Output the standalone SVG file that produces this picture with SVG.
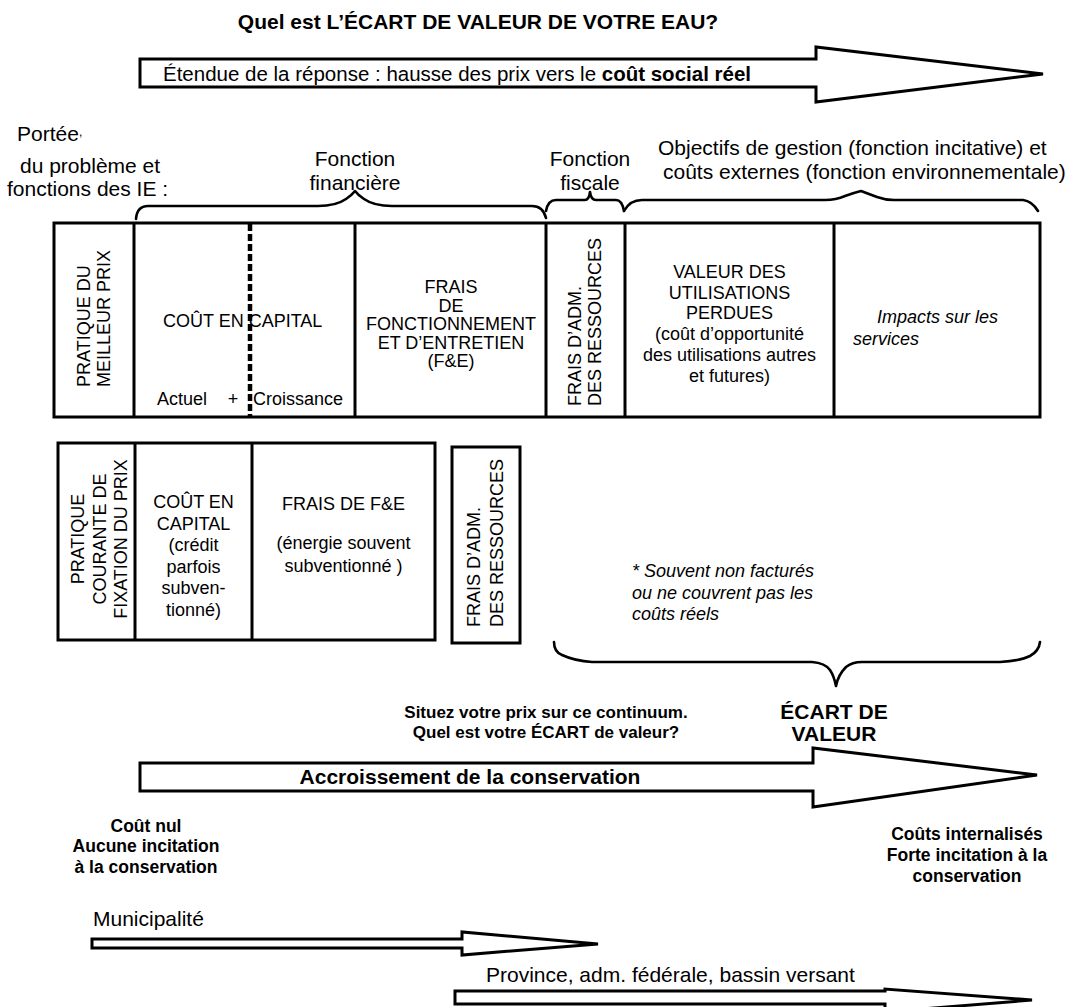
<svg xmlns="http://www.w3.org/2000/svg" width="1074" height="1007" viewBox="0 0 1074 1007">
<style>
text{font-family:"Liberation Sans",Arial,sans-serif;fill:#000}
.t21{font-size:21px}
.b{font-weight:bold}
.bx{font-size:18px}
.c{text-anchor:middle}
.it{font-style:italic}
.ln{fill:none;stroke:#000;stroke-width:3}
.arr{fill:#fff;stroke:#000;stroke-width:3;stroke-linejoin:miter}
.br{fill:none;stroke:#000;stroke-width:2.6;stroke-linejoin:round;stroke-linecap:round}
</style>
<rect width="1074" height="1007" fill="#fff"/>

<g id="title">
<text x="478" y="29" class="t21 b c">Quel est L’ÉCART DE VALEUR DE VOTRE EAU?</text>
</g>

<g id="arrows">
<polygon class="arr" points="140,59 816,59 816,47 1043,74 816,102 816,87 140,87"/>
<polygon class="arr" points="140,763 813,763 813,748 1037,775 813,807 813,791 140,791"/>
<polygon class="arr" points="92,939 462,939 462,932 598,944 462,955 462,948 92,948"/>
<polygon class="arr" points="455,991 885,991 885,989 1032,1000 885,1012 885,1004 455,1004"/>
</g>

<g id="arrow-labels">
<text x="163" y="81" style="font-size:20.5px">Étendue de la réponse : hausse des prix vers le <tspan font-weight="bold">coût social réel</tspan></text>
<text x="470" y="784" class="t21 b c">Accroissement de la conservation</text>
<text x="93" y="926" class="t21">Municipalité</text>
<text x="486" y="982" class="t21">Province, adm. fédérale, bassin versant</text>
</g>

<g id="scope-label">
<text x="17" y="141" class="t21">Portée<tspan font-size="12" dy="-5">,</tspan></text>
<text x="20" y="173" class="t21">du problème et</text>
<text x="7" y="196" class="t21">fonctions des IE :</text>
</g>

<g id="function-labels">
<text x="355" y="166" class="t21 c">Fonction</text>
<text x="355" y="190" class="t21 c">financière</text>
<text x="590" y="166" class="t21 c">Fonction</text>
<text x="590" y="190" class="t21 c">fiscale</text>
<text x="658" y="155" class="t21">Objectifs de gestion (fonction incitative) et</text>
<text x="663" y="179" class="t21">coûts externes (fonction environnementale)</text>
</g>

<g id="braces">
<path class="br" d="M136,219 Q137,206 148,206 L318,206 Q336,206 346,199 Q352,195 355,191 Q358,195 364,199 Q374,206 392,206 L532,206 Q543,206 546,218"/>
<path class="br" d="M546,211 Q548,200 556,200 L585,200 Q589,200 590,192 Q591,200 596,200 L616,200 Q622,200 624,211"/>
<path class="br" d="M624,211 Q630,200 642,200 L825,200 Q836,200 845,196 Q853,193 861,191 Q869,194 877,197 Q885,200 894,200 L1023,200 Q1032,201 1038,211"/>
<path class="br" d="M554,642 Q554,652 562,655 Q575,661 592,662 L812,662 Q825,663 830,670 Q834,676 836,686 M836,686 Q838,675 846,667 Q852,662 862,662 L1000,662 Q1020,661 1030,656 Q1039,651 1040,642"/>
</g>

<g id="row-best">
<rect class="ln" x="54" y="223" width="986" height="194"/>
<line class="ln" x1="134" y1="223" x2="134" y2="417"/>
<line class="ln" x1="355" y1="223" x2="355" y2="417"/>
<line class="ln" x1="546" y1="223" x2="546" y2="417"/>
<line class="ln" x1="625" y1="223" x2="625" y2="417"/>
<line class="ln" x1="834" y1="223" x2="834" y2="417"/>
<line x1="250" y1="224" x2="250" y2="416" stroke="#000" stroke-width="4.5" stroke-dasharray="7 3"/>
</g>

<g id="best-practice">
<text class="bx" transform="translate(90,387) rotate(-90)">PRATIQUE DU</text>
<text class="bx" transform="translate(110,387) rotate(-90)">MEILLEUR PRIX</text>
</g>
<g id="best-capital">
<text class="bx" x="163" y="327">COÛT EN CAPITAL</text>
<text class="bx" x="157" y="405">Actuel</text>
<text class="bx c" x="233" y="405">+</text>
<text class="bx" x="253" y="405">Croissance</text>
</g>
<g id="best-om">
<text class="bx c" x="451" y="293">FRAIS</text>
<text class="bx c" x="451" y="311.5">DE</text>
<text class="bx c" x="451" y="330">FONCTIONNEMENT</text>
<text class="bx c" x="451" y="348.5">ET D’ENTRETIEN</text>
<text class="bx c" x="451" y="367">(F&amp;E)</text>
</g>
<g id="best-admin">
<text class="bx" transform="translate(581,406) rotate(-90)">FRAIS D’ADM.</text>
<text class="bx" transform="translate(601,406) rotate(-90)">DES RESSOURCES</text>
</g>
<g id="best-lost">
<text class="bx c" x="729.5" y="278">VALEUR DES</text>
<text class="bx c" x="729.5" y="298.5">UTILISATIONS</text>
<text class="bx c" x="729.5" y="319">PERDUES</text>
<text class="bx c" x="729.5" y="340">(coût d’opportunité</text>
<text class="bx c" x="729.5" y="361">des utilisations autres</text>
<text class="bx c" x="729.5" y="382">et futures)</text>
</g>
<g id="best-impacts">
<text class="bx it" x="877" y="323">Impacts sur les</text>
<text class="bx it" x="853" y="345">services</text>
</g>

<g id="row-current">
<rect class="ln" x="58" y="443" width="377" height="197"/>
<line class="ln" x1="135" y1="443" x2="135" y2="640"/>
<line class="ln" x1="252" y1="443" x2="252" y2="640"/>
<rect class="ln" x="452" y="447" width="68" height="196"/>
</g>
<g id="current-practice">
<text class="bx c" transform="translate(84,539) rotate(-90)">PRATIQUE</text>
<text class="bx c" transform="translate(106,539) rotate(-90)">COURANTE DE</text>
<text class="bx c" transform="translate(127,539) rotate(-90)">FIXATION DU PRIX</text>
</g>
<g id="current-capital">
<text class="bx c" x="193.5" y="508">COÛT EN</text>
<text class="bx c" x="193.5" y="529.5">CAPITAL</text>
<text class="bx c" x="193.5" y="551">(crédit</text>
<text class="bx c" x="193.5" y="572.5">parfois</text>
<text class="bx c" x="193.5" y="594">subven-</text>
<text class="bx c" x="193.5" y="615.5">tionné)</text>
</g>
<g id="current-om">
<text class="bx c" x="343.5" y="510">FRAIS DE F&amp;E</text>
<text class="bx c" x="343.5" y="549">(énergie souvent</text>
<text class="bx c" x="343.5" y="571.5">subventionné  )</text>
</g>
<g id="current-admin">
<text class="bx" transform="translate(480,627) rotate(-90)">FRAIS D’ADM.</text>
<text class="bx" transform="translate(503,627) rotate(-90)">DES RESSOURCES</text>
</g>

<g id="note">
<text class="bx it" x="632" y="577">* Souvent non facturés</text>
<text class="bx it" x="632" y="599">ou ne couvrent pas les</text>
<text class="bx it" x="632" y="620">coûts réels</text>
</g>

<g id="gap-label">
<text class="t21 b c" x="834" y="719">ÉCART DE</text>
<text class="t21 b c" x="834" y="741">VALEUR</text>
</g>
<g id="question">
<text class="b c" x="546" y="718" font-size="17">Situez votre prix sur ce continuum.</text>
<text class="b c" x="546" y="738" font-size="17">Quel est votre ÉCART de valeur?</text>
</g>

<g id="low-end">
<text class="b c" x="146" y="832" font-size="17.5">Coût nul</text>
<text class="b c" x="146" y="852" font-size="17.5">Aucune incitation</text>
<text class="b c" x="146" y="873" font-size="17.5">à la conservation</text>
</g>
<g id="high-end">
<text class="b c" x="967" y="840" font-size="17.5">Coûts internalisés</text>
<text class="b c" x="967" y="861" font-size="17.5">Forte incitation à la</text>
<text class="b c" x="967" y="882" font-size="17.5">conservation</text>
</g>
</svg>
